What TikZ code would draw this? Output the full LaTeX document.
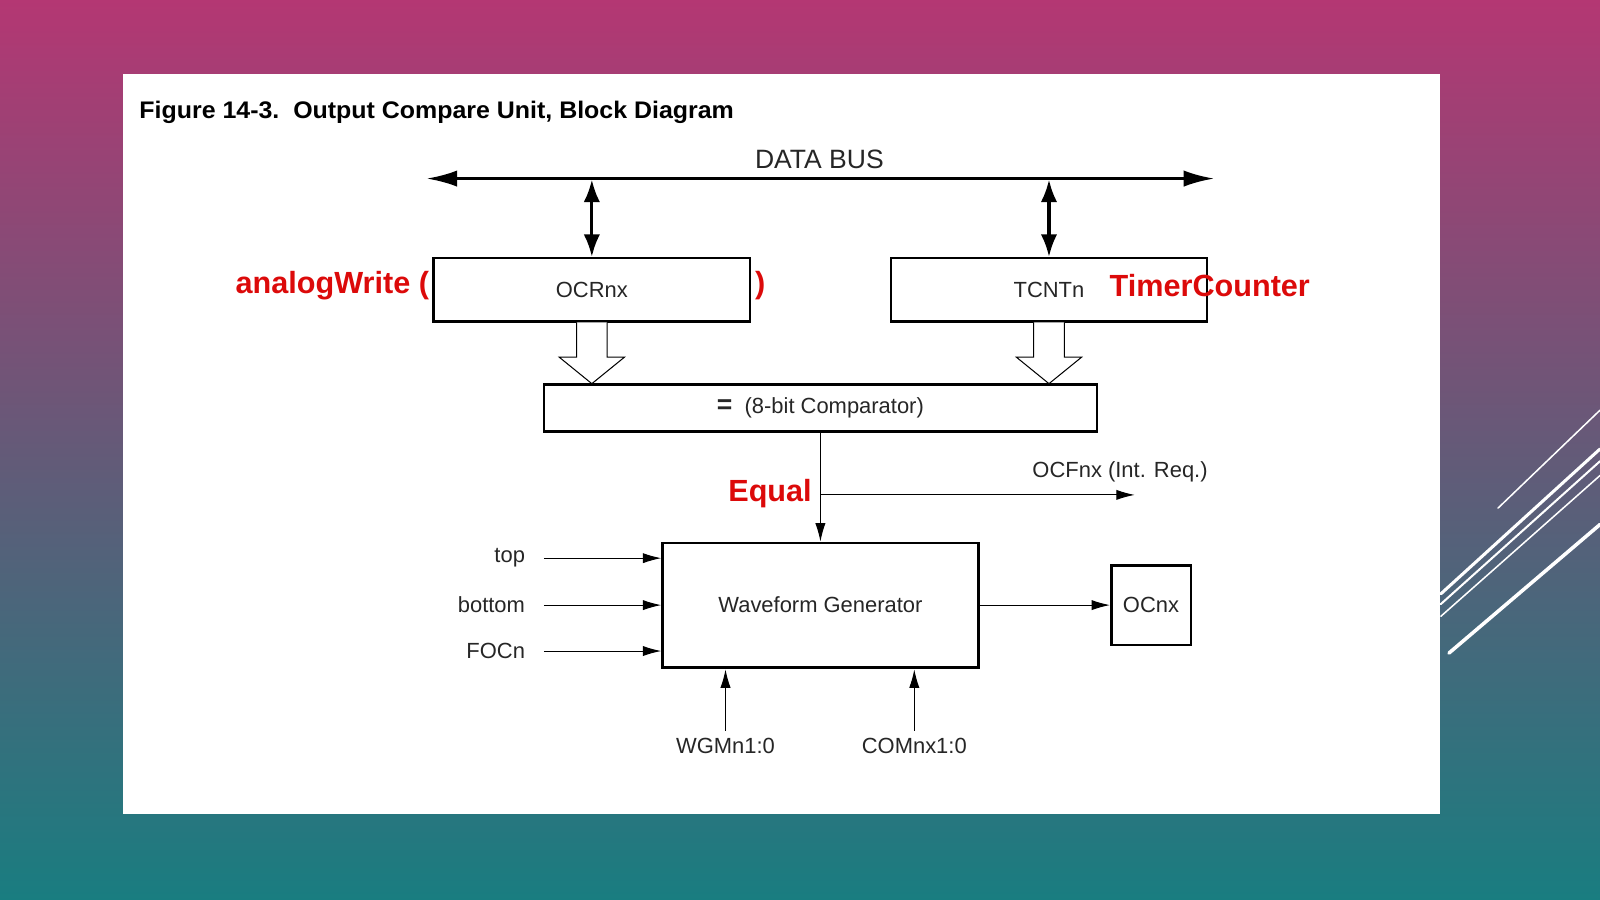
\documentclass[tikz,border=0pt]{standalone}
\usepackage{fontspec}
\setmainfont{Liberation Sans}
\usetikzlibrary{arrows.meta}
\begin{document}
\begin{tikzpicture}[x=1pt,y=-1pt,
  box/.style={draw,line width=2.5pt,inner sep=0pt},
  lbl/.style={font=\fontsize{21.5}{24}\selectfont,text=black!85},
  red/.style={font=\bfseries\fontsize{30}{33}\selectfont,text={rgb,255:red,220;green,10;blue,10}},
  arr/.style={-{Latex[length=18pt,width=10pt]},line width=1pt},
  bus/.style={{Latex[length=30pt,width=16pt]}-{Latex[length=30pt,width=16pt]},line width=3pt},
  hollow/.style={draw,line width=1pt,fill=white},
  deco/.style={white,line cap=round}]
\useasboundingbox (0,0) rectangle (1568,882);
\shade[top color={rgb,255:red,180;green,55;blue,115},bottom color={rgb,255:red,25;green,125;blue,128},middle color={rgb,255:red,100;green,90;blue,120}] (0,0) rectangle (1568,882);
\fill[white] (121,73) rectangle (1411,798);
\draw[deco,line width=1.5pt] (1468,498) -- (1568,402);
\draw[deco,line width=3pt] (1412,582) -- (1568,440);
\draw[deco,line width=2pt] (1412,592) -- (1568,452);
\draw[deco,line width=1.5pt] (1412,604) -- (1568,466);
\draw[deco,line width=3.5pt] (1420,640) -- (1568,514);
\node[anchor=west,font=\bfseries\fontsize{23.5}{26}\selectfont,xscale=1.04] (title) at (133,110) {Figure 14-3.\ \ Output Compare Unit, Block Diagram};
\coordinate (busL) at (418,175);
\coordinate (busR) at (1190,175);
\draw[bus] (busL) -- (busR);
\node[lbl,font=\fontsize{26}{28}\selectfont] (db) at (803,156) {DATA BUS};
\node[box,minimum width=310pt,minimum height=62pt] (ocr) at (580,284) {};
\node[lbl] at (ocr) {OCRnx};
\node[box,minimum width=310pt,minimum height=62pt] (tcnt) at (1028,284) {};
\node[lbl] at (tcnt) {TCNTn};
\coordinate (b1) at (580,176);
\coordinate (b2) at (1028,176);
\draw[bus,{Latex[length=22pt,width=16pt]}-{Latex[length=22pt,width=16pt]}] (b1) -- (ocr.north);
\draw[bus,{Latex[length=22pt,width=16pt]}-{Latex[length=22pt,width=16pt]}] (b2) -- (tcnt.north);
\node[box,minimum width=542pt,minimum height=46pt] (cmp) at (804,400) {};
\node[lbl] at (cmp) {\textbf{\fontsize{26}{26}\selectfont =}\ \ (8-bit Comparator)};
\foreach \c in {580,1028}{
  \draw[hollow] (\c-15,316) -- (\c-15,350) -- (\c-32,350) -- (\c,376) -- (\c+32,350) -- (\c+15,350) -- (\c+15,316);
}
\node[box,minimum width=310pt,minimum height=122pt] (wg) at (804,593) {};
\node[lbl] at (wg) {Waveform Generator};
\node[box,minimum width=78pt,minimum height=78pt] (oc) at (1128,593) {};
\node[lbl] at (oc) {OCnx};
\coordinate (eq) at (804,485);
\coordinate (ocf) at (1112,485);
\draw[arr] (cmp.south) -- (wg.north);
\draw[arr] (eq) -- (ocf);
\node[lbl,anchor=base east] at (1187,468) {OCFnx (Int. Req.)};
\draw[arr] (wg.east) -- (oc.west);
\node[lbl,anchor=east] (top) at (518,547) {top};
\node[lbl,anchor=east] (bot) at (518,593) {bottom};
\node[lbl,anchor=east] (foc) at (518,638) {FOCn};
\foreach \n/\y in {top/547,bot/593,foc/638}{\coordinate (s\n) at (533,\y); \draw[arr] (s\n) -- (648,\y);}
\node[lbl] (wgm) at (711,731) {WGMn1:0};
\node[lbl] (com) at (896,731) {COMnx1:0};
\draw[arr] (711,716) -- (711,656);
\draw[arr] (896,716) -- (896,656);
\node[red,anchor=east] at (424,280) {analogWrite (};
\node[red] at (745,280) {)};
\node[red,anchor=west] at (1084,280) {TimerCounter};
\node[red,anchor=east] at (799,484) {Equal};
\end{tikzpicture}
\end{document}
